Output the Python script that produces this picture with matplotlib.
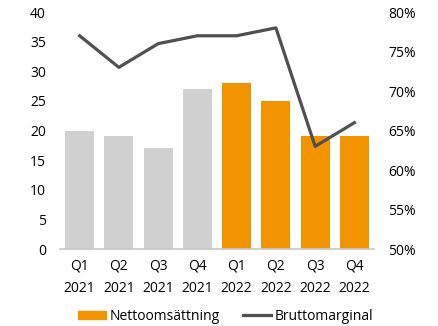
import numpy as np
import matplotlib.pyplot as plt
from matplotlib.patches import Patch
from matplotlib.lines import Line2D

plt.rcParams['font.family'] = ['Open Sans', 'DejaVu Sans']

quarters = ["Q1\n2021", "Q2\n2021", "Q3\n2021", "Q4\n2021",
            "Q1\n2022", "Q2\n2022", "Q3\n2022", "Q4\n2022"]
nettoomsattning = [20, 19, 17, 27, 28, 25, 19, 19]
bruttomarginal = [77, 73, 76, 77, 77, 78, 63, 66]
bar_colors = ["#d0d0d0"] * 4 + ["#f29400"] * 4

fig = plt.figure(figsize=(4.38, 3.26), dpi=100)
ax = fig.add_axes([0.137, 0.236, 0.717, 0.727])
x = np.arange(len(quarters))

ax.bar(x, nettoomsattning, width=0.74, color=bar_colors, zorder=2)
ax.set_ylim(0, 40)
ax.set_yticks(range(0, 41, 5))
ax.set_xlim(-0.5, 7.5)
ax.set_xticks(x)
ax.set_xticklabels(quarters, linespacing=1.7)
for s in ["top", "right", "left"]:
    ax.spines[s].set_visible(False)
ax.spines["bottom"].set_color("#c8c8c8")
ax.spines["bottom"].set_linewidth(1.2)
ax.tick_params(axis="both", length=0, labelsize=10, colors="black")
ax.tick_params(axis="y", pad=10)
ax.tick_params(axis="x", pad=7)

ax2 = ax.twinx()
ax2.plot(x, bruttomarginal, color="#505050", linewidth=2.3, zorder=3)
ax2.set_ylim(50, 80)
ax2.set_yticks(range(50, 81, 5))
ax2.set_yticklabels([f"{v}%" for v in range(50, 81, 5)])
for s in ["top", "right", "left", "bottom"]:
    ax2.spines[s].set_visible(False)
ax2.tick_params(axis="y", length=0, labelsize=10, pad=10)

handles = [Patch(color="#f29400", label="Nettoomsättning"),
           Line2D([0], [0], color="#505050", linewidth=2.3, label="Bruttomarginal")]
fig.legend(handles=handles, loc="center", bbox_to_anchor=(0.515, 0.03), ncol=2,
           frameon=False, fontsize=10, handlelength=2.0, handletextpad=0.3,
           columnspacing=1.65, handleheight=0.5)

fig.savefig("out.png", dpi=100)
